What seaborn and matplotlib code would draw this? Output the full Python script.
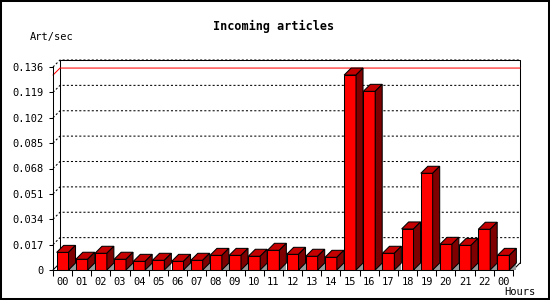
import numpy as np
import pandas as pd
import matplotlib
matplotlib.use("Agg")
import matplotlib.pyplot as plt
import seaborn as sns
from matplotlib.patches import Polygon, Rectangle

# ---- data ----
hours = ["00", "01", "02", "03", "04", "05", "06", "07", "08", "09", "10", "11",
         "12", "13", "14", "15", "16", "17", "18", "19", "20", "21", "22", "00"]
rate = [0.0118, 0.0072, 0.0112, 0.0072, 0.0058, 0.0065, 0.0058, 0.0065,
        0.0098, 0.0098, 0.0092, 0.0132, 0.0105, 0.0092, 0.0085, 0.1306,
        0.1197, 0.0112, 0.0275, 0.0648, 0.0172, 0.0165, 0.0273, 0.0098]
y_ticks = [0, 0.017, 0.034, 0.051, 0.068, 0.085, 0.102, 0.119, 0.136]
y_tick_labels = ["0", "0.017", "0.034", "0.051", "0.068", "0.085", "0.102", "0.119", "0.136"]
title = "Incoming articles"
y_label = "Art/sec"
x_label = "Hours"

# ---- styling ----
W, H, DPI = 550, 300, 100
FRONT = "#ff0000"
TOP = "#c40000"
SIDE = "#7f0000"
SHADOW = "#999999"
LW = 0.75
DEPTH_PX = 7

sns.set_theme(style="white")
plt.rcParams["font.family"] = ["DejaVu Sans Mono", "DejaVu Sans"]

fig = plt.figure(figsize=(W / DPI, H / DPI), dpi=DPI)
fig.patch.set_facecolor("white")

L, R, B, T = 53, 513, 30, 233
ax = fig.add_axes([L / W, B / H, (R - L) / W, (T - B) / H])
ax.set_facecolor("none")

n = len(rate)
ymax = y_ticks[-1]
df = pd.DataFrame({"slot": np.arange(n), "rate": rate})
sns.barplot(data=df, x="slot", y="rate", color=FRONT, saturation=1, width=0.62,
            edgecolor="black", linewidth=LW, ax=ax, zorder=3)

ax.set_xlim(-0.5, n - 0.5)
ax.set_ylim(0, ymax)

dx = DEPTH_PX / ((R - L) / n)
dy = DEPTH_PX / ((T - B) / ymax)

# 3D faces derived from each bar
for p in list(ax.patches):
    xl = p.get_x()
    xr = xl + p.get_width()
    h = p.get_height()
    ax.add_patch(Rectangle((xl, 0), (xr - xl) + dx, dy, facecolor=SHADOW,
                           edgecolor="none", zorder=1, clip_on=False))
    ax.add_patch(Polygon([(xl, h), (xr, h), (xr + dx, h + dy), (xl + dx, h + dy)],
                         closed=True, facecolor=TOP, edgecolor="black", lw=LW,
                         zorder=3, clip_on=False))
    ax.add_patch(Polygon([(xr, 0), (xr + dx, dy), (xr + dx, h + dy), (xr, h)],
                         closed=True, facecolor=SIDE, edgecolor="black", lw=LW,
                         zorder=3, clip_on=False))

x0, x1 = -0.5, n - 0.5
# back wall outline
ax.plot([x0 + dx, x0 + dx, x1 + dx, x1 + dx], [dy, ymax + dy, ymax + dy, dy],
        color="black", lw=LW, clip_on=False, zorder=0.5)
# dotted grid on back wall
for v in y_ticks[1:]:
    ax.plot([x0, x0 + dx, x1 + dx], [v, v + dy, v + dy], color="black", lw=LW,
            linestyle=(0, (2, 2)), clip_on=False, zorder=0.4)
# max line
vmax = max(rate)
ax.plot([x0, x0 + dx, x1 + dx], [vmax, vmax + dy, vmax + dy], color="red",
        lw=LW, clip_on=False, zorder=0.6)
# floor diagonals
ax.plot([x0, x0 + dx], [0, dy], color="black", lw=LW, clip_on=False, zorder=0.5)
ax.plot([x1, x1 + dx], [0, dy], color="black", lw=LW, clip_on=False, zorder=0.5)

# spines
for s in ["top", "right"]:
    ax.spines[s].set_visible(False)
for s in ["left", "bottom"]:
    ax.spines[s].set_color("black")
    ax.spines[s].set_linewidth(LW)
    ax.spines[s].set_zorder(4)

# ticks
ax.set_yticks(y_ticks, labels=y_tick_labels)
ax.tick_params(axis="y", left=True, length=3, width=LW, pad=3.5,
               labelsize=7.5, colors="black", direction="out")
ax.set_xticks(np.arange(n + 1) - 0.5, labels=[])
ax.set_xticks(np.arange(n), labels=hours, minor=True)
ax.tick_params(axis="x", which="major", bottom=True, length=4, width=LW,
               direction="out", colors="black")
ax.tick_params(axis="x", which="minor", bottom=True, length=0, pad=5,
               labelsize=7.5, labelcolor="black")
ax.set_xlabel("")
ax.set_ylabel("")

# texts
fig.text(273.5 / W, 1 - 26.7 / H, title, ha="center", va="center",
         fontsize=8.5, fontweight="bold", color="black")
fig.text(30 / W, 1 - 37.3 / H, y_label, ha="left", va="center",
         fontsize=7.5, color="black")
fig.text(504 / W, 1 - 292 / H, x_label, ha="left", va="center",
         fontsize=7.5, color="black")

# outer frame
fig.add_artist(Rectangle((0, 0), 1, 1, transform=fig.transFigure, fill=False,
                         edgecolor="black", lw=2.9))

fig.savefig("out.png", dpi=DPI, facecolor="white")
